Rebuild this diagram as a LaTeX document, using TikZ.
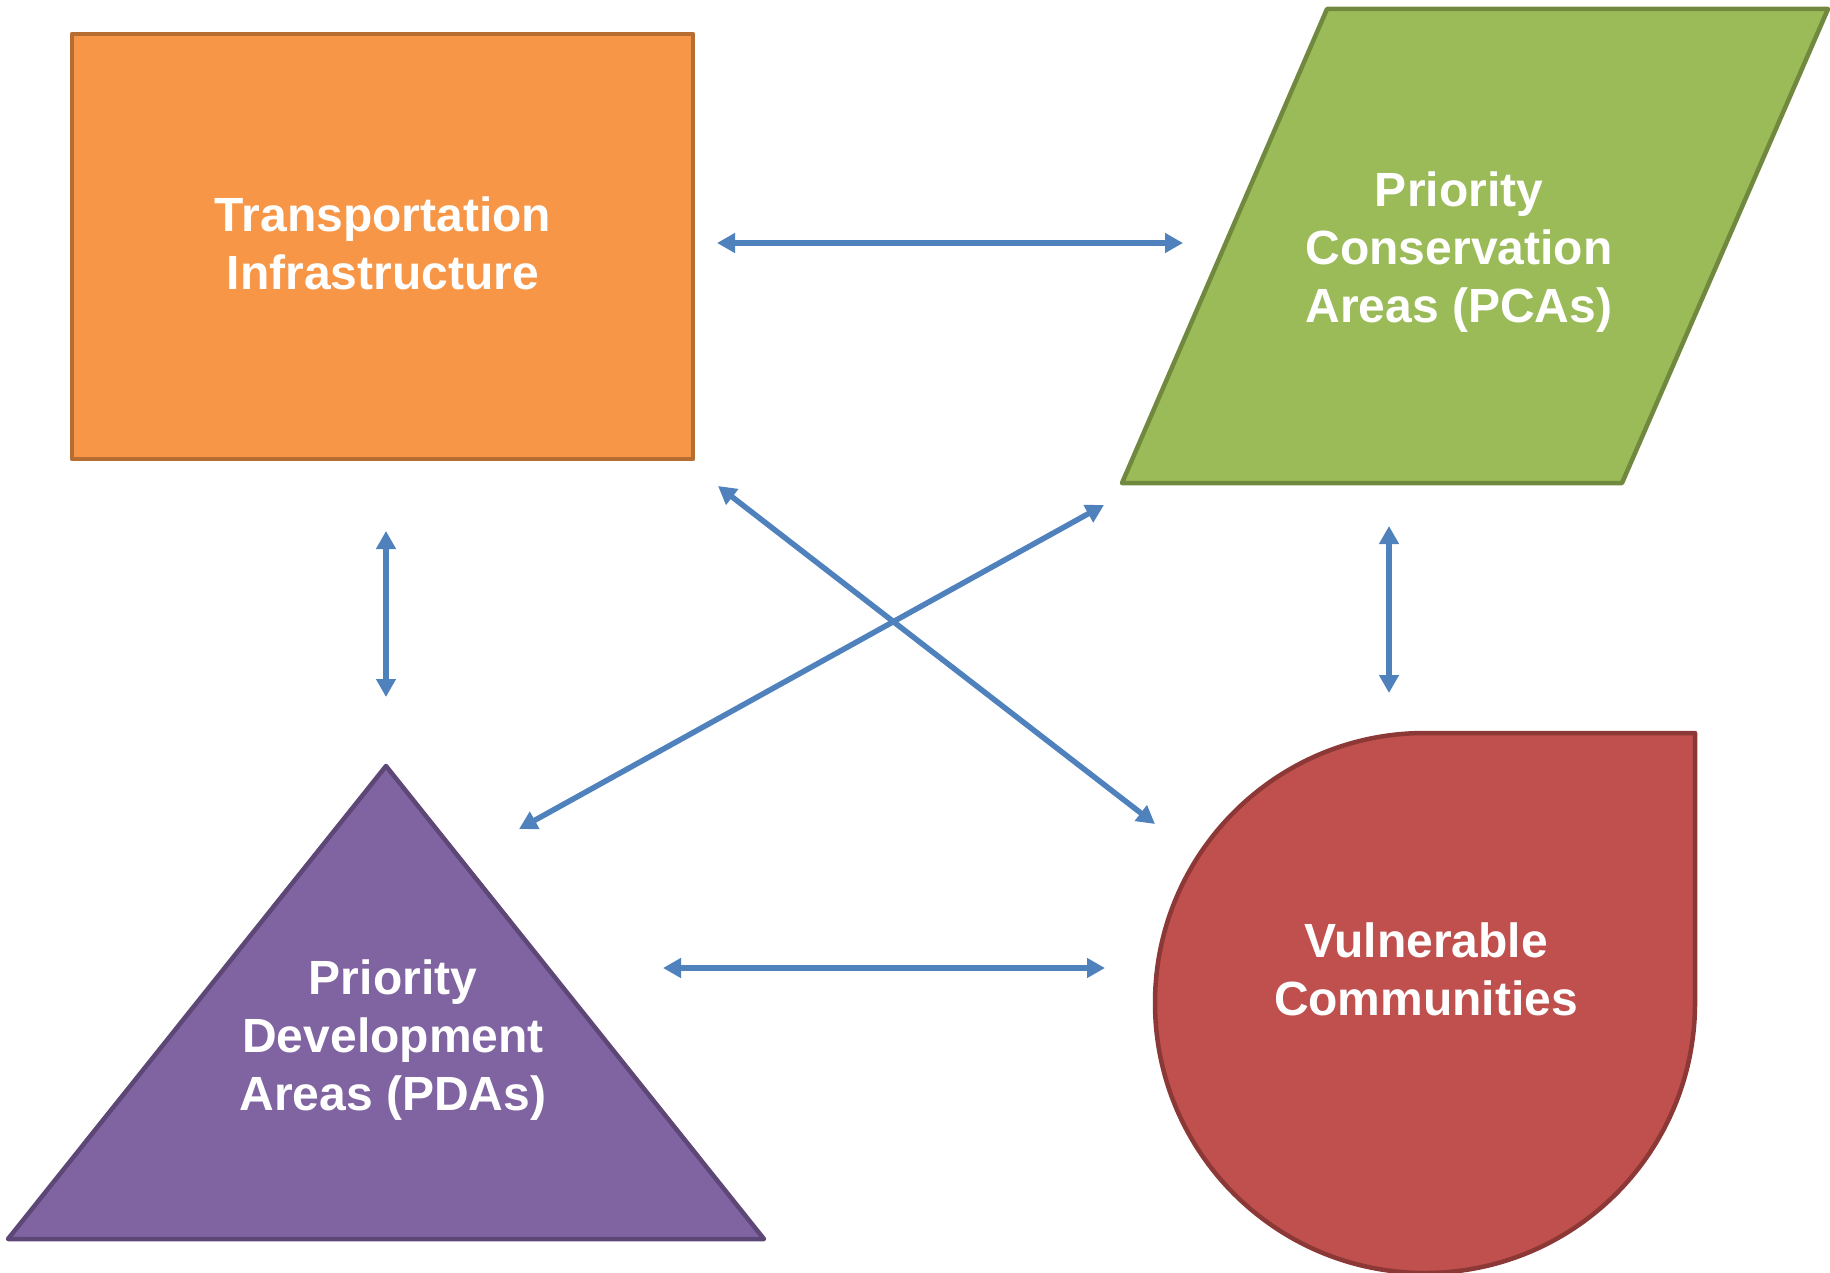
\documentclass[tikz,border=0pt]{standalone}
\usepackage{fontspec}
\setmainfont{Liberation Sans}
\usetikzlibrary{arrows.meta}
\definecolor{arrowblue}{HTML}{4F81BD}
\definecolor{orfill}{HTML}{F79646}
\definecolor{ordraw}{HTML}{B66D31}
\definecolor{grfill}{HTML}{9BBB59}
\definecolor{grdraw}{HTML}{71893F}
\definecolor{pufill}{HTML}{8064A2}
\definecolor{pudraw}{HTML}{5C4776}
\definecolor{refill}{HTML}{C0504D}
\definecolor{redraw}{HTML}{8C3836}
\tikzset{
  label text/.style={text=white, align=center, font=\fontsize{48}{58}\selectfont\bfseries, inner sep=0pt},
  shapeline/.style={line width=4.5pt, line join=round},
  link/.style={draw=arrowblue, line width=5.5pt, {Triangle[length=18pt,width=19pt]}-{Triangle[length=18pt,width=19pt]}},
}
\begin{document}
\begin{tikzpicture}[x=1pt,y=-1pt]
\useasboundingbox (0,0) rectangle (1830,1273);
% shapes
\draw[shapeline, draw=ordraw, fill=orfill] (72,34) rectangle (693,459);
\draw[shapeline, draw=grdraw, fill=grfill] (1327,9) -- (1828,9) -- (1622,483) -- (1122,483) -- cycle;
\draw[shapeline, draw=pudraw, fill=pufill] (386,766) -- (764,1239) -- (8,1239) -- cycle;
\draw[shapeline, draw=redraw, fill=refill] (1425,733) -- (1695,733) -- (1695,1003) arc[start angle=0, end angle=270, radius=270] -- cycle;
% labels
\node[label text] (ti) at (383,243) {Transportation\\Infrastructure};
\node[label text] (pca) at (1459,252) {Priority\\Conservation\\Areas (PCAs)};
\node[label text] (pda) at (393,1040) {Priority\\Development\\Areas (PDAs)};
\node[label text] (vc) at (1426,969) {Vulnerable\\Communities};
% connector ends
\coordinate (a1) at (717,243);  \coordinate (b1) at (1183,243);
\coordinate (a2) at (386,531);  \coordinate (b2) at (386,697);
\coordinate (a3) at (1389,526); \coordinate (b3) at (1389,693);
\coordinate (a4) at (663,968);  \coordinate (b4) at (1105,968);
\coordinate (a5) at (718,486);  \coordinate (b5) at (1155,824);
\coordinate (a6) at (1104,505); \coordinate (b6) at (519,829);
\draw[link] (a1) -- (b1);
\draw[link] (a2) -- (b2);
\draw[link] (a3) -- (b3);
\draw[link] (a4) -- (b4);
\draw[link] (a5) -- (b5);
\draw[link] (a6) -- (b6);
\end{tikzpicture}
\end{document}
